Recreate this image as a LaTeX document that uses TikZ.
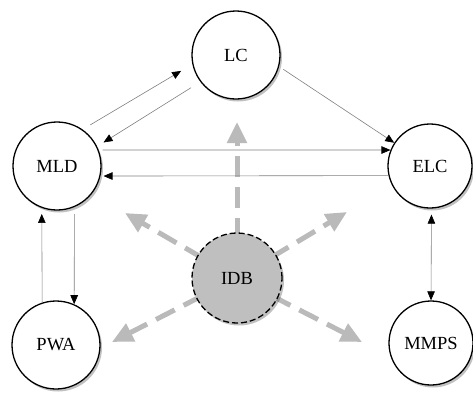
\documentclass[tikz,border=0pt]{standalone}
\usepackage{fontspec}
\setmainfont{Liberation Serif}
\usetikzlibrary{arrows.meta,shadows,calc,backgrounds}
\begin{document}
\begin{tikzpicture}[x=1pt,y=-1pt,
  proc/.style={circle,draw=black,line width=1.3pt,fill=white,minimum size=88pt,inner sep=0pt,
    font=\fontsize{18.5}{20}\selectfont,
    drop shadow={shadow xshift=2pt,shadow yshift=-2.5pt,opacity=0.35,fill=black!70}},
  store/.style={proc,fill=black!25,dash pattern=on 6pt off 3pt,minimum size=90pt},
  link/.style={draw=black!50,line width=0.6pt,-{Triangle[length=9pt,width=7.5pt,black]}},
  dlink/.style={draw=black!50,line width=0.6pt,{Triangle[length=9pt,width=7.5pt,black]}-{Triangle[length=9pt,width=7.5pt,black]}},
  feed/.style={draw=black!27,line width=5pt,dash pattern=on 21pt off 10pt,
    -{Triangle[length=21pt,width=19pt,black!27]}}]
\useasboundingbox (0,0) rectangle (473,394);

\node[proc] (lc) at (236,55) {LC};
\node[proc] (mld) at (57,166) {MLD};
\node[proc,minimum size=84pt] (elc) at (430,166) {ELC};
\node[proc] (pwa) at (56,345) {PWA};
\node[proc,minimum size=84pt] (mmps) at (431,343) {MMPS};
\node[store] (idb) at (237,278) {IDB};

\coordinate (t1) at (237,122);
\coordinate (t2) at (125,213);
\coordinate (t3) at (347,212);
\coordinate (t4) at (112,342);
\coordinate (t5) at (362,342);

\begin{pgfonlayer}{background}
\draw[feed] ($(idb.center)!39pt!(t1)$) -- (t1);
\draw[feed] ($(idb.center)!39pt!(t2)$) -- (t2);
\draw[feed] ($(idb.center)!39pt!(t3)$) -- (t3);
\draw[feed] ($(idb.center)!39pt!(t4)$) -- (t4);
\draw[feed] ($(idb.center)!39pt!(t5)$) -- (t5);
\end{pgfonlayer}

\draw[link,shorten <=9pt,shorten >=13pt] (mld.55.7) -- (lc.192);
\draw[link,shorten <=11pt,shorten >=7.5pt] (lc.217) -- (mld.26.6);
\draw[link,shorten <=5pt] (lc.-15.5) -- (elc.147.4);
\draw[link,shorten <=4pt] (mld.21.3) -- (elc.158.7);
\draw[link,shorten >=3pt] (elc.193.1) -- (mld.-13.1);
\draw[link,shorten <=7pt] (mld.-67) -- (pwa.66);
\draw[link,shorten >=6pt] (pwa.108.5) -- (mld.-110);
\draw[dlink,shorten <=6pt] (elc.-88) -- (mmps.90);
\end{tikzpicture}
\end{document}
